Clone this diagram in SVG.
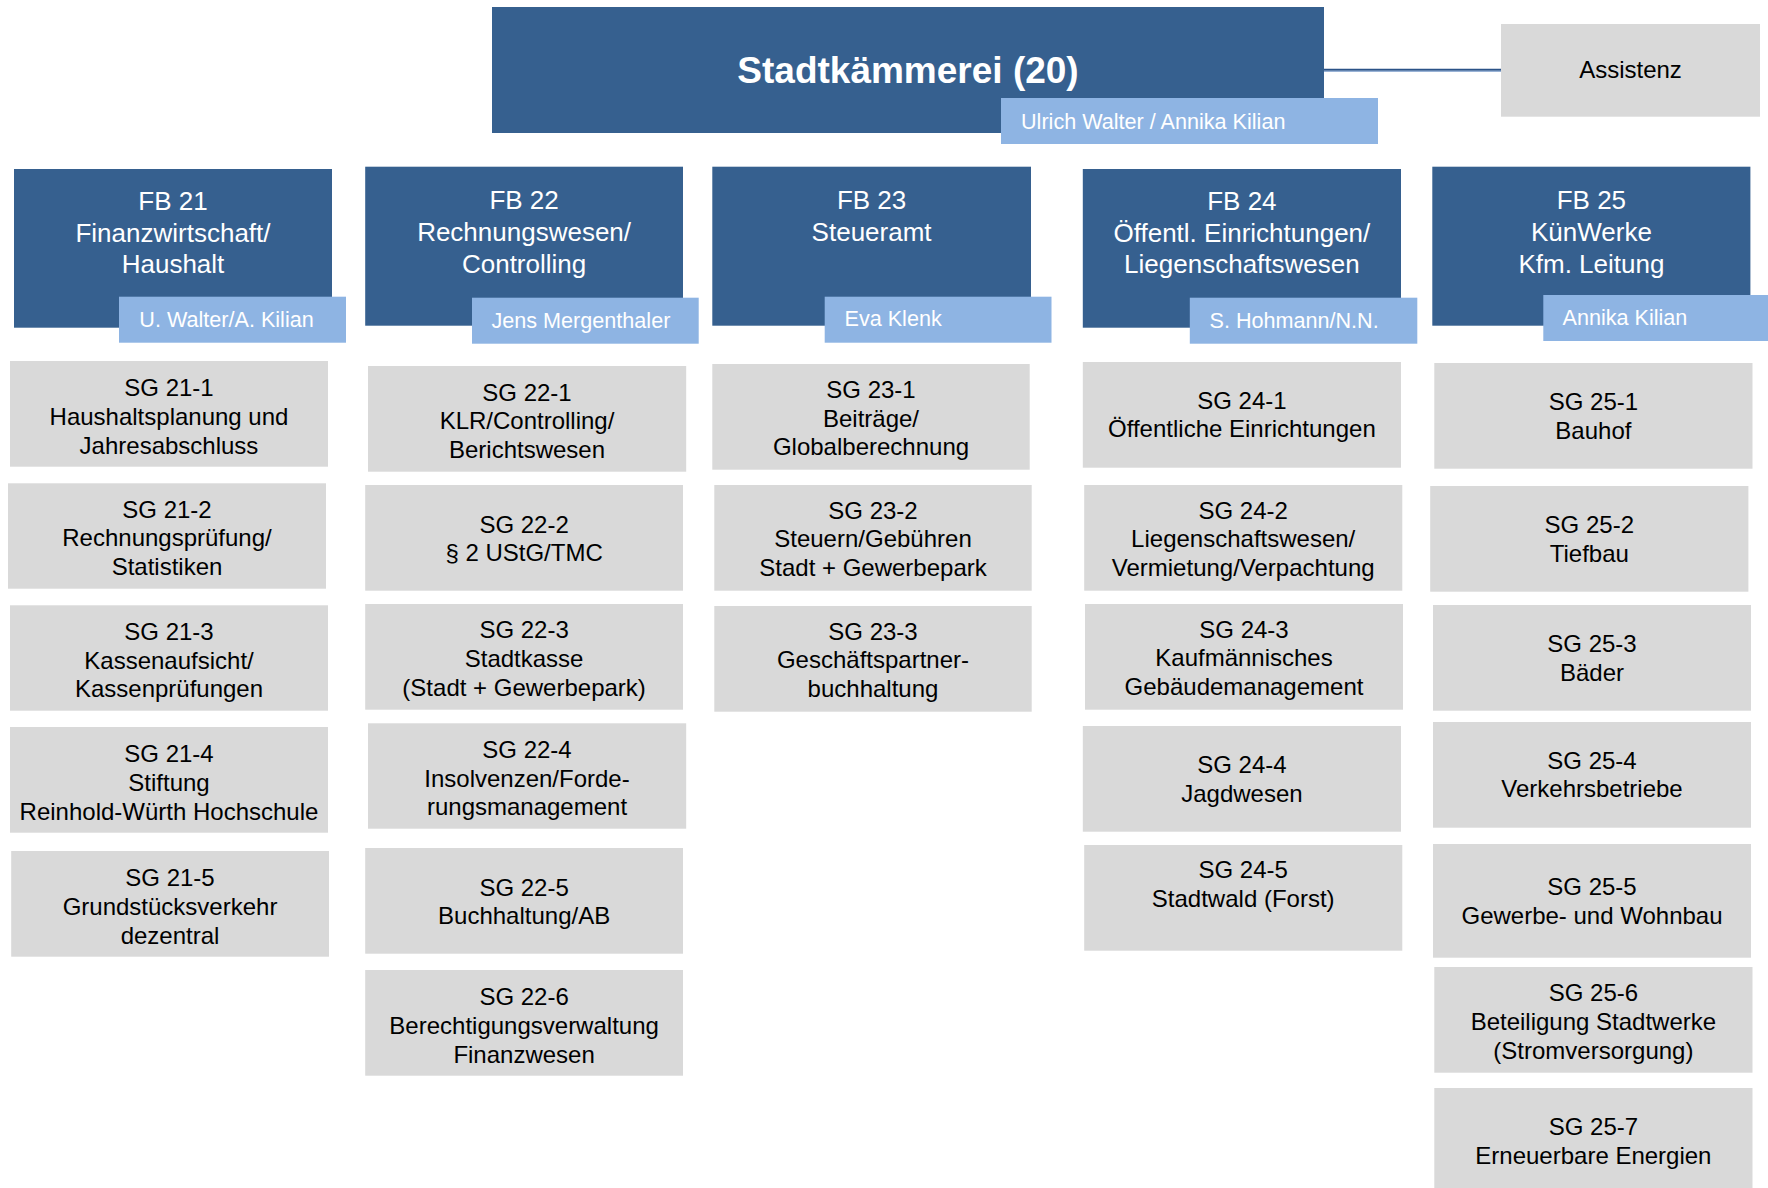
<svg xmlns="http://www.w3.org/2000/svg" width="1768" height="1188" viewBox="0 0 1768 1188">
<style>
.fb{fill:#36608F}
.lbl{fill:#8EB4E3}
.sg{fill:#D9D9D9}
text{font-family:"Liberation Sans",Arial,sans-serif}
.tt{font-size:37px;font-weight:bold;fill:#fff;text-anchor:middle}
.tfb{font-size:26px;fill:#fff;text-anchor:middle}
.tl{font-size:21.6px;fill:#fff}
.ts{font-size:24px;fill:#000;text-anchor:middle}
</style>
<rect width="1768" height="1188" fill="#fff"/>
<g id="connectors">
<line x1="1324" y1="69.7" x2="1501" y2="69.7" stroke="#2B5287" stroke-width="2"/>
<line x1="1324" y1="71.2" x2="1501" y2="71.2" stroke="#6A90C2" stroke-width="1"/>
</g>
<g id="title">
<rect class="fb" x="492" y="7" width="832" height="126"/>
<text class="tt" x="908" y="83.3">Stadtkämmerei (20)</text>
<rect class="lbl" x="1001" y="98" width="377" height="46"/>
<text class="tl" x="1021" y="129.3">Ulrich Walter / Annika Kilian</text>
</g>
<g id="assistenz">
<rect class="sg" x="1501" y="24" width="259" height="92.7"/>
<text class="ts" x="1630.5" y="78.3">Assistenz</text>
</g>
<g id="fb21">
<rect class="fb" x="14" y="169" width="318" height="158.7"/>
<text class="tfb"><tspan x="173" y="210">FB 21</tspan><tspan x="173" y="241.7">Finanzwirtschaft/</tspan><tspan x="173" y="273.3">Haushalt</tspan></text>
<rect class="lbl" x="119" y="296.7" width="227" height="46"/>
<text class="tl" x="139.3" y="326.7">U. Walter/A. Kilian</text>
</g>
<g id="fb22">
<rect class="fb" x="365.2" y="166.7" width="317.8" height="159"/>
<text class="tfb"><tspan x="524.1" y="209.3">FB 22</tspan><tspan x="524.1" y="241">Rechnungswesen/</tspan><tspan x="524.1" y="272.5">Controlling</tspan></text>
<rect class="lbl" x="472" y="297.7" width="226.7" height="46"/>
<text class="tl" x="491.5" y="328.3">Jens Mergenthaler</text>
</g>
<g id="fb23">
<rect class="fb" x="712.3" y="166.7" width="318.7" height="159"/>
<text class="tfb"><tspan x="871.6" y="209.3">FB 23</tspan><tspan x="871.6" y="241">Steueramt</tspan></text>
<rect class="lbl" x="824.7" y="296.7" width="226.8" height="46"/>
<text class="tl" x="844.5" y="325.7">Eva Klenk</text>
</g>
<g id="fb24">
<rect class="fb" x="1082.8" y="169" width="318.2" height="158.7"/>
<text class="tfb"><tspan x="1241.9" y="210">FB 24</tspan><tspan x="1241.9" y="241.5">Öffentl. Einrichtungen/</tspan><tspan x="1241.9" y="273">Liegenschaftswesen</tspan></text>
<rect class="lbl" x="1189.8" y="297.7" width="227.5" height="46"/>
<text class="tl" x="1209.5" y="328.3">S. Hohmann/N.N.</text>
</g>
<g id="fb25">
<rect class="fb" x="1432.3" y="166.7" width="318.1" height="159"/>
<text class="tfb"><tspan x="1591.4" y="209.3">FB 25</tspan><tspan x="1591.4" y="241">KünWerke</tspan><tspan x="1591.4" y="272.5">Kfm. Leitung</tspan></text>
<rect class="lbl" x="1543.3" y="295" width="224.7" height="46"/>
<text class="tl" x="1562.5" y="324.7">Annika Kilian</text>
</g>
<g id="sg21-1"><rect class="sg" x="10" y="361" width="318" height="105.7"/><text class="ts"><tspan x="169" y="396">SG 21-1</tspan><tspan x="169" y="424.8">Haushaltsplanung und</tspan><tspan x="169" y="453.6">Jahresabschluss</tspan></text></g>
<g id="sg21-2"><rect class="sg" x="8" y="483.3" width="318" height="105.4"/><text class="ts"><tspan x="167" y="517.5">SG 21-2</tspan><tspan x="167" y="546.3">Rechnungsprüfung/</tspan><tspan x="167" y="575.1">Statistiken</tspan></text></g>
<g id="sg21-3"><rect class="sg" x="10" y="605.3" width="318" height="105.4"/><text class="ts"><tspan x="169" y="639.8">SG 21-3</tspan><tspan x="169" y="668.6">Kassenaufsicht/</tspan><tspan x="169" y="697.4">Kassenprüfungen</tspan></text></g>
<g id="sg21-4"><rect class="sg" x="10" y="727" width="318" height="105.7"/><text class="ts"><tspan x="169" y="762">SG 21-4</tspan><tspan x="169" y="790.8">Stiftung</tspan><tspan x="169" y="819.6">Reinhold-Würth Hochschule</tspan></text></g>
<g id="sg21-5"><rect class="sg" x="11.2" y="851" width="317.8" height="105.7"/><text class="ts"><tspan x="170" y="886">SG 21-5</tspan><tspan x="170" y="914.8">Grundstücksverkehr</tspan><tspan x="170" y="943.6">dezentral</tspan></text></g>
<g id="sg22-1"><rect class="sg" x="368" y="366" width="318.2" height="105.7"/><text class="ts"><tspan x="527" y="400.5">SG 22-1</tspan><tspan x="527" y="429.3">KLR/Controlling/</tspan><tspan x="527" y="458.1">Berichtswesen</tspan></text></g>
<g id="sg22-2"><rect class="sg" x="365.2" y="485" width="317.8" height="105.7"/><text class="ts"><tspan x="524.1" y="532.5">SG 22-2</tspan><tspan x="524.1" y="561.3">§ 2 UStG/TMC</tspan></text></g>
<g id="sg22-3"><rect class="sg" x="365.2" y="604" width="317.8" height="105.7"/><text class="ts"><tspan x="524.1" y="638">SG 22-3</tspan><tspan x="524.1" y="666.8">Stadtkasse</tspan><tspan x="524.1" y="695.6">(Stadt + Gewerbepark)</tspan></text></g>
<g id="sg22-4"><rect class="sg" x="368" y="723.3" width="318.2" height="105.4"/><text class="ts"><tspan x="527" y="757.8">SG 22-4</tspan><tspan x="527" y="786.6">Insolvenzen/Forde-</tspan><tspan x="527" y="815.4">rungsmanagement</tspan></text></g>
<g id="sg22-5"><rect class="sg" x="365.2" y="848" width="317.8" height="105.7"/><text class="ts"><tspan x="524.1" y="895.5">SG 22-5</tspan><tspan x="524.1" y="924.3">Buchhaltung/AB</tspan></text></g>
<g id="sg22-6"><rect class="sg" x="365.2" y="970" width="317.8" height="105.7"/><text class="ts"><tspan x="524.1" y="1005">SG 22-6</tspan><tspan x="524.1" y="1033.8">Berechtigungsverwaltung</tspan><tspan x="524.1" y="1062.6">Finanzwesen</tspan></text></g>
<g id="sg23-1"><rect class="sg" x="712.3" y="364" width="317.4" height="105.7"/><text class="ts"><tspan x="871" y="397.7">SG 23-1</tspan><tspan x="871" y="426.5">Beiträge/</tspan><tspan x="871" y="455.3">Globalberechnung</tspan></text></g>
<g id="sg23-2"><rect class="sg" x="714.3" y="485" width="317.4" height="105.7"/><text class="ts"><tspan x="873" y="518.5">SG 23-2</tspan><tspan x="873" y="547.3">Steuern/Gebühren</tspan><tspan x="873" y="576.1">Stadt + Gewerbepark</tspan></text></g>
<g id="sg23-3"><rect class="sg" x="714.3" y="606" width="317.4" height="105.7"/><text class="ts"><tspan x="873" y="639.5">SG 23-3</tspan><tspan x="873" y="668.3">Geschäftspartner-</tspan><tspan x="873" y="697.1">buchhaltung</tspan></text></g>
<g id="sg24-1"><rect class="sg" x="1082.8" y="362" width="318.2" height="105.7"/><text class="ts"><tspan x="1241.9" y="408.5">SG 24-1</tspan><tspan x="1241.9" y="437.3">Öffentliche Einrichtungen</tspan></text></g>
<g id="sg24-2"><rect class="sg" x="1084.2" y="485" width="318.1" height="105.7"/><text class="ts"><tspan x="1243.2" y="518.5">SG 24-2</tspan><tspan x="1243.2" y="547.3">Liegenschaftswesen/</tspan><tspan x="1243.2" y="576.1">Vermietung/Verpachtung</tspan></text></g>
<g id="sg24-3"><rect class="sg" x="1085" y="604" width="318" height="105.7"/><text class="ts"><tspan x="1244" y="637.5">SG 24-3</tspan><tspan x="1244" y="666.3">Kaufmännisches</tspan><tspan x="1244" y="695.1">Gebäudemanagement</tspan></text></g>
<g id="sg24-4"><rect class="sg" x="1082.8" y="726" width="318.2" height="105.7"/><text class="ts"><tspan x="1241.9" y="773.3">SG 24-4</tspan><tspan x="1241.9" y="802.1">Jagdwesen</tspan></text></g>
<g id="sg24-5"><rect class="sg" x="1084.2" y="845" width="318.1" height="105.7"/><text class="ts"><tspan x="1243.2" y="878">SG 24-5</tspan><tspan x="1243.2" y="906.8">Stadtwald (Forst)</tspan></text></g>
<g id="sg25-1"><rect class="sg" x="1434.3" y="363" width="318.2" height="105.7"/><text class="ts"><tspan x="1593.4" y="410">SG 25-1</tspan><tspan x="1593.4" y="438.8">Bauhof</tspan></text></g>
<g id="sg25-2"><rect class="sg" x="1430.2" y="486" width="318.2" height="105.7"/><text class="ts"><tspan x="1589.3" y="532.8">SG 25-2</tspan><tspan x="1589.3" y="561.6">Tiefbau</tspan></text></g>
<g id="sg25-3"><rect class="sg" x="1433" y="605" width="318" height="105.7"/><text class="ts"><tspan x="1592" y="651.8">SG 25-3</tspan><tspan x="1592" y="680.6">Bäder</tspan></text></g>
<g id="sg25-4"><rect class="sg" x="1433" y="722" width="318" height="105.7"/><text class="ts"><tspan x="1592" y="768.5">SG 25-4</tspan><tspan x="1592" y="797.3">Verkehrsbetriebe</tspan></text></g>
<g id="sg25-5"><rect class="sg" x="1433" y="844" width="318" height="113.7"/><text class="ts"><tspan x="1592" y="895">SG 25-5</tspan><tspan x="1592" y="923.8">Gewerbe- und Wohnbau</tspan></text></g>
<g id="sg25-6"><rect class="sg" x="1434.3" y="967" width="318.2" height="105.7"/><text class="ts"><tspan x="1593.4" y="1001">SG 25-6</tspan><tspan x="1593.4" y="1029.8">Beteiligung Stadtwerke</tspan><tspan x="1593.4" y="1058.6">(Stromversorgung)</tspan></text></g>
<g id="sg25-7"><rect class="sg" x="1434.3" y="1088" width="318.2" height="100"/><text class="ts"><tspan x="1593.4" y="1135.3">SG 25-7</tspan><tspan x="1593.4" y="1164.1">Erneuerbare Energien</tspan></text></g>
</svg>
